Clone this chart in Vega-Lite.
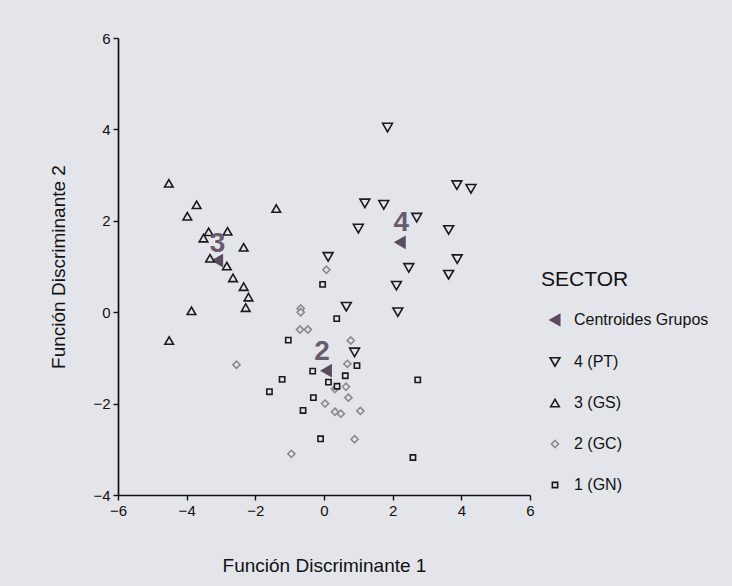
{
  "$schema": "https://vega.github.io/schema/vega-lite/v6.json",
  "width": 412,
  "height": 457,
  "autosize": {"type": "none"},
  "padding": {"left": 118, "top": 38, "right": 202, "bottom": 91},
  "background": "#e4e5eb",
  "config": {
    "view": {"stroke": null},
    "font": "Liberation Sans",
    "axis": {
      "grid": false,
      "domainColor": "#111111",
      "domainWidth": 1.7,
      "tickColor": "#111111",
      "tickSize": 5,
      "tickWidth": 1.4,
      "labelFont": "Liberation Sans",
      "labelFontSize": 15,
      "labelColor": "#111111",
      "labelPadding": 3,
      "labelFlush": false,
      "titleFont": "Liberation Sans",
      "titleFontSize": 19,
      "titleFontWeight": "normal",
      "titleColor": "#111111"
    },
    "legend": {
      "orient": "none",
      "legendX": 423,
      "legendY": 231,
      "padding": 0,
      "titleFont": "Liberation Sans",
      "titleFontSize": 21,
      "titleFontWeight": "normal",
      "titleColor": "#111111",
      "titlePadding": 22,
      "labelFont": "Liberation Sans",
      "labelFontSize": 16,
      "labelColor": "#111111",
      "rowPadding": 25,
      "symbolOffset": 6,
      "labelOffset": 11,
      "symbolStrokeWidth": 1.6
    }
  },
  "datasets": {
    "points": [
      {"sector": "Centroides Grupos", "f1": -3.1, "f2": 1.13},
      {"sector": "Centroides Grupos", "f1": 2.22, "f2": 1.53},
      {"sector": "Centroides Grupos", "f1": 0.07, "f2": -1.28},
      {"sector": "4 (PT)", "f1": 1.85, "f2": 4.04},
      {"sector": "4 (PT)", "f1": 3.87, "f2": 2.78},
      {"sector": "4 (PT)", "f1": 4.28, "f2": 2.7},
      {"sector": "4 (PT)", "f1": 1.19, "f2": 2.38},
      {"sector": "4 (PT)", "f1": 1.74, "f2": 2.35},
      {"sector": "4 (PT)", "f1": 2.7, "f2": 2.07},
      {"sector": "4 (PT)", "f1": 1.0, "f2": 1.83},
      {"sector": "4 (PT)", "f1": 3.63, "f2": 1.8},
      {"sector": "4 (PT)", "f1": 0.12, "f2": 1.21},
      {"sector": "4 (PT)", "f1": 3.88, "f2": 1.16},
      {"sector": "4 (PT)", "f1": 2.47, "f2": 0.97},
      {"sector": "4 (PT)", "f1": 3.63, "f2": 0.82},
      {"sector": "4 (PT)", "f1": 2.11, "f2": 0.58},
      {"sector": "4 (PT)", "f1": 0.65, "f2": 0.12},
      {"sector": "4 (PT)", "f1": 2.15, "f2": 0.0},
      {"sector": "4 (PT)", "f1": 0.89, "f2": -0.88},
      {"sector": "3 (GS)", "f1": -4.52, "f2": 2.82},
      {"sector": "3 (GS)", "f1": -3.71, "f2": 2.35},
      {"sector": "3 (GS)", "f1": -3.98, "f2": 2.1},
      {"sector": "3 (GS)", "f1": -1.39, "f2": 2.27},
      {"sector": "3 (GS)", "f1": -3.36, "f2": 1.76},
      {"sector": "3 (GS)", "f1": -2.81, "f2": 1.77},
      {"sector": "3 (GS)", "f1": -3.51, "f2": 1.62},
      {"sector": "3 (GS)", "f1": -2.34, "f2": 1.42},
      {"sector": "3 (GS)", "f1": -3.32, "f2": 1.18},
      {"sector": "3 (GS)", "f1": -2.83, "f2": 1.01},
      {"sector": "3 (GS)", "f1": -2.65, "f2": 0.75},
      {"sector": "3 (GS)", "f1": -2.34, "f2": 0.56},
      {"sector": "3 (GS)", "f1": -2.2, "f2": 0.33},
      {"sector": "3 (GS)", "f1": -2.28, "f2": 0.1},
      {"sector": "3 (GS)", "f1": -3.86, "f2": 0.03},
      {"sector": "3 (GS)", "f1": -4.51, "f2": -0.62},
      {"sector": "2 (GC)", "f1": 0.07, "f2": 0.93},
      {"sector": "2 (GC)", "f1": -0.68, "f2": 0.08},
      {"sector": "2 (GC)", "f1": -0.68, "f2": 0.0},
      {"sector": "2 (GC)", "f1": -0.7, "f2": -0.38},
      {"sector": "2 (GC)", "f1": -0.47, "f2": -0.38},
      {"sector": "2 (GC)", "f1": 0.78, "f2": -0.62},
      {"sector": "2 (GC)", "f1": -2.55, "f2": -1.15},
      {"sector": "2 (GC)", "f1": 0.68, "f2": -1.13},
      {"sector": "2 (GC)", "f1": 0.64, "f2": -1.63},
      {"sector": "2 (GC)", "f1": 0.32, "f2": -1.68},
      {"sector": "2 (GC)", "f1": 0.71, "f2": -1.87},
      {"sector": "2 (GC)", "f1": 0.03, "f2": -2.0},
      {"sector": "2 (GC)", "f1": 0.32, "f2": -2.18},
      {"sector": "2 (GC)", "f1": 0.49, "f2": -2.22},
      {"sector": "2 (GC)", "f1": 1.06, "f2": -2.16},
      {"sector": "2 (GC)", "f1": 0.89, "f2": -2.78},
      {"sector": "2 (GC)", "f1": -0.95, "f2": -3.1},
      {"sector": "1 (GN)", "f1": -0.04, "f2": 0.61},
      {"sector": "1 (GN)", "f1": 0.37, "f2": -0.14},
      {"sector": "1 (GN)", "f1": -1.04, "f2": -0.61},
      {"sector": "1 (GN)", "f1": 0.96, "f2": -1.17},
      {"sector": "1 (GN)", "f1": -0.33, "f2": -1.29},
      {"sector": "1 (GN)", "f1": 0.62, "f2": -1.39},
      {"sector": "1 (GN)", "f1": -1.22, "f2": -1.47},
      {"sector": "1 (GN)", "f1": 0.13, "f2": -1.53},
      {"sector": "1 (GN)", "f1": 0.38, "f2": -1.62},
      {"sector": "1 (GN)", "f1": -1.59, "f2": -1.74},
      {"sector": "1 (GN)", "f1": -0.31, "f2": -1.87},
      {"sector": "1 (GN)", "f1": -0.61, "f2": -2.15},
      {"sector": "1 (GN)", "f1": -0.1, "f2": -2.77},
      {"sector": "1 (GN)", "f1": 2.73, "f2": -1.48},
      {"sector": "1 (GN)", "f1": 2.59, "f2": -3.18}
    ],
    "labels": [
      {"label": "3", "f1": -3.1, "f2": 1.5},
      {"label": "4", "f1": 2.25, "f2": 1.95},
      {"label": "2", "f1": -0.06, "f2": -0.88}
    ]
  },
  "layer": [
    {
      "data": {"name": "points"},
      "mark": {"type": "point", "filled": true, "strokeWidth": 1.6, "opacity": 1},
      "encoding": {
        "x": {
          "field": "f1", "type": "quantitative",
          "scale": {"domain": [-6, 6], "nice": false, "zero": false},
          "axis": {"values": [-6, -4, -2, 0, 2, 4, 6], "title": "Función Discriminante 1", "titlePadding": 38}
        },
        "y": {
          "field": "f2", "type": "quantitative",
          "scale": {"domain": [-4, 6], "nice": false, "zero": false},
          "axis": {"values": [-4, -2, 0, 2, 4, 6], "title": "Función Discriminante 2", "titlePadding": 24}
        },
        "shape": {
          "field": "sector", "type": "nominal", "title": "SECTOR",
          "scale": {
            "domain": ["Centroides Grupos", "4 (PT)", "3 (GS)", "2 (GC)", "1 (GN)"],
            "range": ["triangle-left", "triangle-down", "triangle-up", "diamond", "square"]
          }
        },
        "fill": {
          "field": "sector", "type": "nominal", "title": "SECTOR",
          "scale": {
            "domain": ["Centroides Grupos", "4 (PT)", "3 (GS)", "2 (GC)", "1 (GN)"],
            "range": ["#5a4b5e", "#e4e5eb", "#e4e5eb", "#e4e5eb", "#e4e5eb"]
          }
        },
        "stroke": {
          "field": "sector", "type": "nominal", "title": "SECTOR",
          "scale": {
            "domain": ["Centroides Grupos", "4 (PT)", "3 (GS)", "2 (GC)", "1 (GN)"],
            "range": ["#5a4b5e", "#1a1a1a", "#1a1a1a", "#8a8a8a", "#1a1a1a"]
          }
        },
        "size": {
          "field": "sector", "type": "nominal", "title": "SECTOR",
          "scale": {
            "domain": ["Centroides Grupos", "4 (PT)", "3 (GS)", "2 (GC)", "1 (GN)"],
            "range": [120, 28, 28, 26, 20]
          }
        }
      }
    },
    {
      "data": {"name": "labels"},
      "mark": {"type": "text", "fontSize": 28, "fontWeight": "bold", "color": "#6a5a6e", "font": "Liberation Sans"},
      "encoding": {
        "x": {"field": "f1", "type": "quantitative"},
        "y": {"field": "f2", "type": "quantitative"},
        "text": {"field": "label", "type": "nominal"}
      }
    }
  ]
}
